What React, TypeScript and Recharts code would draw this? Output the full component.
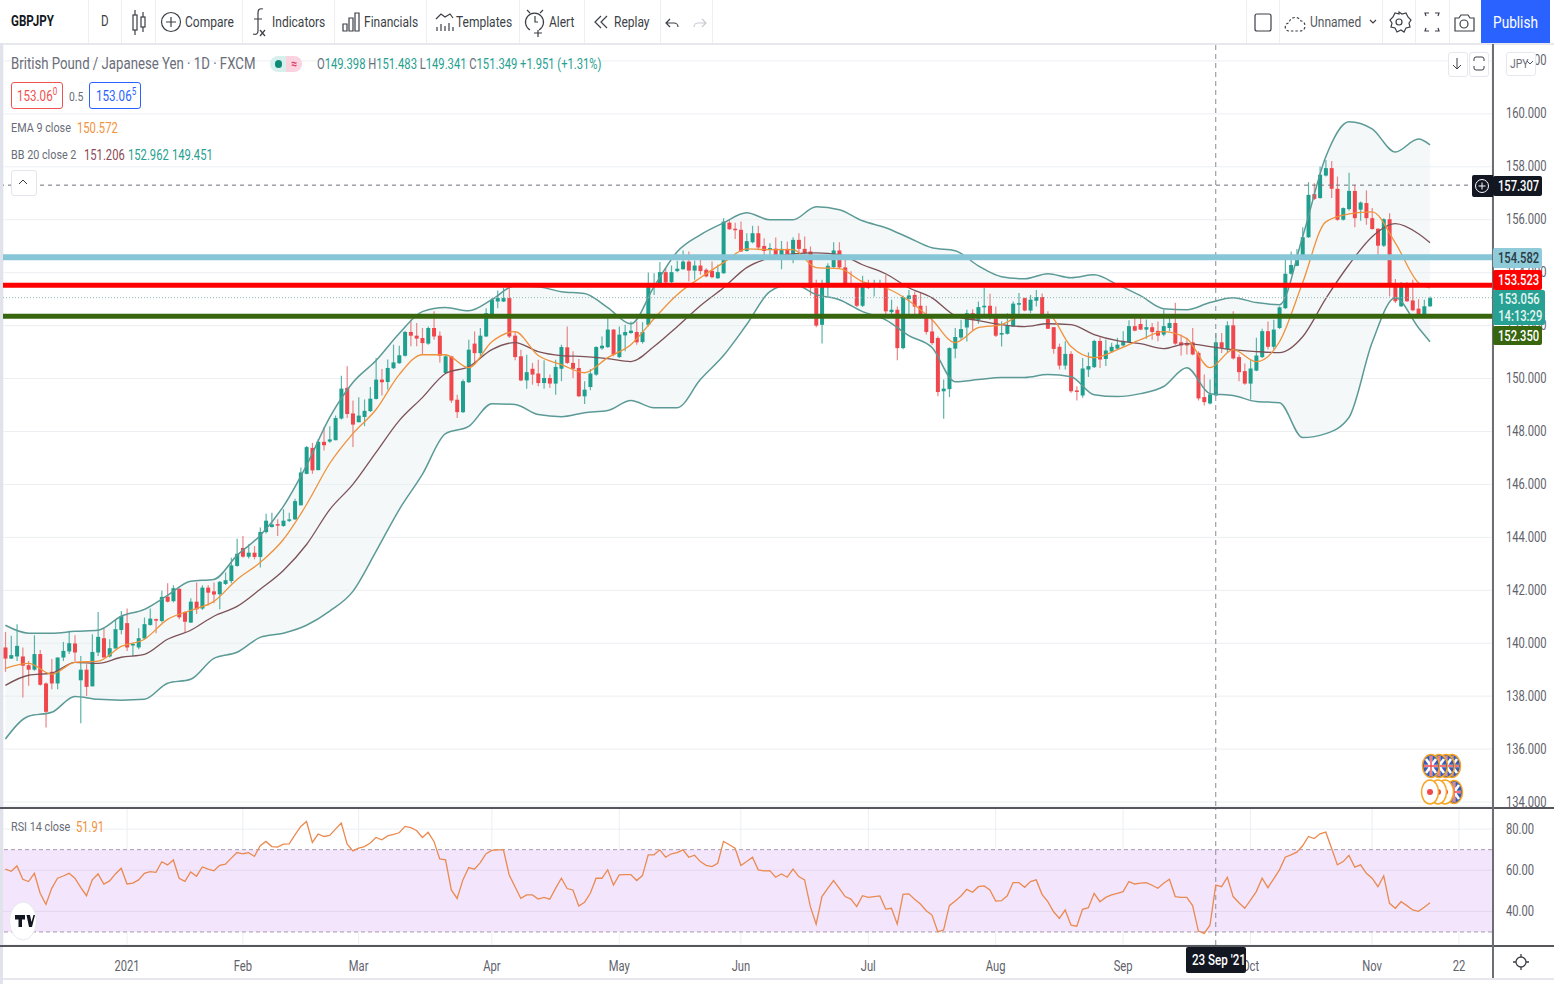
import React from 'react';
import { ComposedChart, Bar, Line, Area, XAxis, YAxis, CartesianGrid, ReferenceLine, ReferenceArea } from 'recharts';

const opens = [
  139.84,139.42,139.50,139.50,139.17,139.00,139.59,138.48,138.92,138.48,
  139.46,139.69,139.99,138.60,139.00,138.37,139.65,140.19,139.50,139.80,
  140.50,140.76,139.92,139.84,140.18,140.69,140.91,140.84,141.76,141.59,
  142.06,141.18,140.78,141.57,141.31,142.10,141.96,141.85,142.24,142.35,
  142.92,143.60,143.27,143.42,143.26,144.20,144.39,144.50,144.43,144.63,
  144.68,145.21,146.40,147.38,146.54,147.61,147.62,147.67,148.49,149.65,
  148.68,148.35,148.55,148.77,149.23,149.96,149.87,150.39,150.58,150.86,
  151.76,151.62,151.53,151.32,151.91,151.62,150.21,150.84,149.20,148.73,
  149.86,151.32,150.96,151.59,152.35,152.91,152.91,153.04,151.62,150.84,
  149.93,150.37,150.19,149.83,150.02,149.81,150.37,151.18,150.59,150.40,
  149.33,149.68,150.15,151.14,151.19,151.85,150.81,151.63,151.72,151.76,
  151.38,152.03,153.54,153.54,154.02,153.64,154.06,154.13,154.42,154.08,
  154.27,154.11,154.07,153.79,153.98,155.89,155.66,155.62,154.82,155.15,
  155.49,155.01,154.86,154.91,154.65,154.90,154.51,155.24,154.90,154.80,
  153.42,152.03,153.52,154.21,154.84,154.20,153.60,153.50,152.75,153.54,
  153.48,153.45,153.50,152.51,152.60,151.15,153.01,153.16,152.75,152.35,
  151.78,151.53,149.52,149.60,151.13,151.55,151.93,152.47,152.22,152.69,
  152.75,152.41,151.66,151.69,151.97,152.79,153.04,152.57,152.94,153.08,
  152.25,151.94,151.20,150.49,150.93,149.55,149.36,150.34,150.43,151.42,
  150.74,151.02,151.13,151.25,151.37,151.98,152.06,151.85,151.94,151.80,
  151.66,151.91,152.10,151.37,151.35,151.37,150.97,149.30,149.06,149.36,
  151.37,151.12,152.01,150.81,150.28,149.81,150.30,150.81,151.79,151.20,
  151.91,152.66,153.96,154.26,154.61,155.34,156.97,156.82,157.67,157.95,
  157.17,156.00,156.40,157.09,156.38,156.63,156.06,155.66,155.02,156.02,
  153.52,152.73,153.52,152.95,152.64,152.41,152.73,
];
const closes = [
  139.42,139.55,139.90,139.15,139.00,139.59,138.43,137.41,138.48,139.46,
  139.71,140.00,139.65,139.00,138.35,139.67,140.24,139.46,139.81,140.53,
  141.03,139.84,139.97,140.19,140.72,140.93,140.86,141.75,141.57,142.08,
  140.98,140.81,141.57,141.28,142.10,141.91,141.84,142.32,142.38,142.94,
  143.38,143.27,143.42,143.26,144.20,144.63,144.49,144.47,144.63,144.68,
  145.37,146.45,147.41,146.53,147.61,147.48,147.70,148.51,149.62,148.66,
  148.26,148.60,148.78,149.24,149.96,149.86,150.40,150.61,150.88,151.76,
  151.62,151.51,151.34,151.91,151.59,150.86,150.84,149.17,148.73,149.90,
  151.09,150.96,151.62,152.47,152.98,153.04,153.04,151.59,150.81,149.93,
  150.24,150.15,149.83,150.02,149.81,150.44,151.19,150.59,150.37,149.33,
  149.58,150.19,151.19,151.24,151.85,150.90,151.66,151.76,151.81,151.37,
  151.76,153.54,153.58,154.02,153.63,154.02,154.15,154.42,154.08,154.27,
  154.06,153.86,153.83,154.02,155.93,155.64,155.62,154.80,155.19,155.49,
  154.95,154.82,154.93,154.65,154.90,154.70,155.24,154.90,154.74,153.42,
  152.00,153.58,154.26,154.84,154.20,153.60,153.50,152.75,153.57,153.42,
  153.60,153.57,152.54,152.60,151.15,153.08,153.14,152.72,152.32,151.76,
  151.34,149.49,149.62,151.15,151.57,151.87,152.47,152.22,152.70,152.75,
  152.41,151.62,151.72,152.00,152.83,152.85,152.57,152.98,153.08,152.33,
  151.88,151.12,150.49,150.93,149.52,149.50,150.38,150.47,151.42,150.72,
  151.06,151.20,151.28,151.41,151.98,151.81,151.85,151.94,151.76,151.62,
  151.98,152.10,151.32,151.25,151.25,150.91,149.25,149.11,149.40,151.37,
  151.16,152.01,150.76,150.24,149.81,150.38,150.87,151.79,151.20,151.85,
  152.69,153.96,154.29,154.61,155.34,156.94,156.79,157.70,157.95,157.17,
  156.00,156.44,157.09,156.06,156.65,156.06,155.65,155.02,156.02,153.48,
  152.92,153.52,152.92,152.58,152.41,152.73,153.04,
];
const highs = [
  140.43,140.28,140.72,139.84,139.33,140.30,139.74,138.52,139.40,139.46,
  140.05,140.47,140.30,139.52,139.21,140.34,141.18,140.57,140.15,140.91,
  141.22,141.31,140.02,140.57,140.97,141.31,140.93,141.98,142.27,142.19,
  142.06,141.22,141.70,142.29,142.19,142.19,142.29,142.35,142.67,143.23,
  143.95,144.05,143.74,143.67,144.37,144.89,144.93,144.68,145.06,144.93,
  145.46,146.64,147.45,147.57,147.72,148.16,148.20,148.60,150.11,150.46,
  149.17,149.29,149.21,149.68,150.78,150.36,150.72,151.28,151.24,151.81,
  152.22,152.10,151.91,151.97,152.54,151.78,150.90,150.86,149.39,149.96,
  151.47,151.78,151.91,152.66,153.04,153.33,153.42,153.42,151.78,151.09,
  150.90,150.59,150.71,150.69,150.15,150.71,151.28,151.97,151.03,150.74,
  149.90,150.36,151.22,151.59,152.41,151.87,151.97,152.03,152.16,152.16,
  152.13,154.01,153.98,154.40,154.17,154.27,154.45,154.84,154.80,154.46,
  154.65,154.17,154.42,154.30,156.06,155.99,155.89,155.93,155.49,155.77,
  155.77,155.30,155.11,155.33,155.20,155.18,155.34,155.49,155.37,154.99,
  153.73,153.73,154.36,155.15,155.15,154.51,154.05,153.60,153.88,153.73,
  153.73,153.73,153.92,152.98,152.72,153.13,153.35,153.29,153.23,152.75,
  152.35,151.59,149.96,151.18,151.91,152.22,152.60,152.62,152.91,153.42,
  153.20,152.72,152.16,152.47,152.91,153.23,153.06,153.16,153.35,153.21,
  152.54,151.94,151.32,151.41,151.03,149.71,150.78,150.99,151.47,151.56,
  151.47,151.35,151.54,151.79,152.20,152.29,152.29,152.23,152.10,152.16,
  152.61,152.29,152.86,151.66,151.54,151.91,151.03,150.15,149.96,151.72,
  151.72,152.16,152.54,150.91,150.57,150.69,151.54,151.88,152.16,152.22,
  152.73,154.49,154.80,154.89,155.72,157.42,157.38,158.01,158.26,158.22,
  157.63,156.46,157.78,157.32,156.69,157.11,156.44,155.68,156.06,156.25,
  153.76,153.65,153.65,153.73,153.00,152.98,153.10,
];
const lows = [
  138.92,139.40,139.33,137.95,138.39,138.96,138.39,136.82,138.26,138.26,
  139.33,139.59,139.33,136.98,138.01,138.37,139.52,139.46,139.46,139.80,
  140.34,139.71,139.52,139.77,140.15,140.66,140.38,140.78,141.54,141.54,
  140.91,140.40,140.76,141.10,141.26,141.43,141.51,141.28,142.20,142.27,
  142.89,143.23,143.20,143.17,142.86,144.15,144.37,144.05,144.40,144.58,
  144.66,145.21,146.38,146.40,146.54,147.28,147.57,147.67,148.45,148.51,
  147.41,148.35,148.20,148.74,149.21,149.36,149.58,150.36,150.56,150.83,
  151.22,151.22,150.90,151.28,151.47,150.61,150.21,149.08,148.51,148.70,
  149.83,150.52,150.86,151.57,152.32,152.66,152.89,151.53,150.69,149.90,
  149.61,149.77,149.71,149.61,149.64,149.39,149.90,150.55,150.02,149.30,
  149.04,149.56,150.11,151.09,151.15,150.84,150.78,151.03,151.69,151.28,
  151.32,151.97,153.16,153.52,153.54,153.60,154.02,154.11,153.67,153.73,
  153.92,153.83,153.79,153.77,153.96,155.62,155.27,154.78,154.80,155.11,
  154.89,154.55,154.55,154.51,154.13,154.61,154.36,154.61,154.67,153.13,
  151.94,151.32,153.10,154.17,154.15,153.58,153.45,152.70,152.70,153.38,
  153.10,153.42,152.41,152.41,150.69,151.11,152.35,152.41,152.28,151.66,
  151.28,149.33,148.48,149.30,150.77,151.47,151.40,151.82,152.07,152.41,
  152.22,151.57,151.21,151.66,151.95,152.41,152.54,152.47,152.72,152.29,
  151.88,150.94,150.34,150.34,149.46,149.17,149.27,150.06,150.40,150.40,
  150.47,150.97,151.10,151.20,151.35,151.79,151.83,151.50,151.47,151.41,
  151.60,151.79,151.28,150.87,150.91,150.88,149.17,148.98,149.02,149.33,
  150.97,150.97,150.72,149.90,149.77,149.21,150.28,150.78,151.10,151.10,
  151.87,152.63,153.92,154.24,154.59,155.31,156.75,156.79,157.63,156.82,
  155.96,155.97,156.35,155.72,155.96,155.81,155.62,154.68,154.97,153.10,
  152.85,152.70,152.89,152.54,152.39,152.39,152.70,
];

const sampleBars = [
  0,4,8,12,16,20,24,28,32,36,40,44,48,52,56,60,64,68,72,76,80,84,88,92,96,100,104,108,112,116,
  120,124,128,132,136,140,144,148,152,156,160,164,168,172,176,180,184,188,192,196,200,204,208,
  212,216,220,224,228,232,236,240,244,246,
];
const bbUpper = [
  140.68,140.38,140.38,140.45,140.49,141.02,141.28,141.81,142.34,142.41,
  143.32,144.07,145.17,146.72,148.53,149.85,150.68,151.70,152.53,152.68,
  152.56,152.98,153.51,153.47,153.28,153.21,152.68,152.07,153.47,154.79,
  155.43,155.88,156.26,156.00,156.00,156.49,156.38,155.96,155.70,155.32,
  154.94,154.83,154.26,153.85,153.77,153.96,153.81,153.92,153.55,153.13,
  152.64,152.60,152.87,153.05,152.87,152.79,155.36,158.38,159.70,159.43,158.56,159.05,158.83,
];
const bbLower = [
  136.38,137.24,137.39,137.99,137.88,137.85,137.88,138.49,138.64,139.43,
  139.66,140.22,140.38,140.68,141.21,141.96,143.47,145.05,146.38,147.92,
  148.19,149.05,149.02,148.64,148.56,148.71,148.79,149.17,148.90,148.90,
  149.96,150.87,152.04,153.28,153.58,153.17,152.98,152.53,152.22,151.62,
  151.17,149.88,149.96,150.04,150.04,150.15,150.07,149.39,149.32,149.43,
  149.70,150.41,149.43,149.36,149.13,149.09,147.77,147.92,148.53,151.36,153.05,151.92,151.39,
];
const bbBasis = [
  138.41,138.79,138.87,139.28,139.24,139.47,139.58,140.15,140.49,141.02,
  141.39,142.04,142.75,143.73,145.05,146.00,147.21,148.41,149.28,150.19,
  150.45,151.09,151.36,151.02,150.87,150.83,150.75,150.64,151.21,151.96,
  152.75,153.43,154.19,154.56,154.71,154.75,154.68,154.30,153.96,153.43,
  153.05,152.38,152.19,152.04,151.96,152.07,152.04,151.66,151.43,151.32,
  151.13,151.32,151.21,151.09,151.02,150.98,151.58,153.02,154.30,155.36,155.85,155.47,155.13,
];
const ema9 = [
  139.05,139.24,138.83,139.28,139.32,139.88,140.15,140.90,141.24,141.58,
  142.41,143.05,143.92,145.24,146.79,147.92,148.83,150.15,150.90,150.90,
  150.41,151.39,151.77,150.87,150.53,150.22,150.79,151.28,152.26,153.17,
  153.81,154.38,154.90,154.87,154.87,154.19,154.15,153.66,153.43,152.94,
  152.22,151.36,151.92,152.04,152.41,152.41,151.21,150.79,151.09,151.47,
  151.77,151.51,150.41,151.09,150.64,151.39,153.62,155.92,156.22,156.30,155.13,153.62,153.43,
];
const rsi14 = [
  60.5,59.5,62.1,55.6,54.5,58.5,48.8,43.4,51.2,56.1,57.2,58.5,56.1,51.7,47.6,55.3,58.2,53.3,54.8,58.2,
  61.0,53.3,53.7,55.3,58.5,59.3,59.0,64.1,62.6,65.0,56.1,54.6,59.2,57.1,61.6,60.5,59.7,62.4,62.9,65.9,
  68.6,68.0,68.5,66.7,71.9,74.0,71.5,71.2,72.7,72.8,77.2,81.3,83.7,73.5,77.6,76.4,76.9,80.0,82.9,72.8,
  69.4,70.7,71.5,73.2,75.9,74.8,76.7,77.4,78.2,81.3,80.7,79.3,75.9,78.4,74.0,65.5,65.0,50.4,46.3,55.3,
  61.3,60.5,63.7,68.0,69.6,69.9,69.9,57.7,52.0,46.3,48.0,48.0,46.0,46.8,45.9,51.2,56.1,51.1,50.4,42.6,
  44.4,48.8,56.1,56.1,60.2,52.8,57.7,57.9,57.9,55.0,57.4,67.5,67.5,69.9,66.3,68.0,68.6,69.9,66.3,67.3,
  64.2,62.4,61.8,63.4,74.0,72.4,70.7,62.3,64.2,66.3,60.2,59.7,59.8,56.6,58.2,56.6,60.5,56.9,55.3,42.3,
  33.8,47.2,51.2,55.0,51.2,47.2,46.0,42.3,47.6,46.8,47.2,47.5,41.1,41.5,33.8,48.3,48.5,45.9,43.6,40.3,
  38.2,30.1,30.9,42.8,45.0,47.5,50.7,49.3,52.0,52.4,50.4,45.0,45.2,47.6,54.0,54.0,51.7,54.5,55.3,48.3,
  44.7,39.8,36.6,40.7,33.3,32.8,41.0,41.8,48.8,44.7,46.8,48.0,48.8,49.6,54.5,53.3,53.7,54.0,52.7,51.2,
  53.7,55.6,47.2,46.8,46.8,42.8,30.4,29.3,33.3,52.8,52.0,56.6,47.2,44.2,41.5,45.5,49.6,56.1,51.5,55.8,
  60.2,66.3,67.5,68.8,71.9,76.4,75.4,77.7,78.5,70.7,62.6,64.2,67.2,61.5,62.6,58.5,56.1,52.0,57.2,43.9,
  41.5,44.7,42.8,40.7,40.0,42.0,44.2,
];

const priceTicks = [134,136,138,140,142,144,146,148,150,152,154,156,158,160,162];
const rsiTicks = [40,60,80];
const monthBars = [21,41,61,84,106,127,149,171,193,215,236,251];
const monthLabels = ['2021','Feb','Mar','Apr','May','Jun','Jul','Aug','Sep','Oct','Nov','22'];

const levelBlue = 154.582;
const levelRed = 153.523;
const levelGreen = 152.35;
const lastPrice = 153.056;
const crossPrice = 157.307;
const crossBar = 209;

const candleRows = opens.map((open, i) => ({ bar: i, open, close: closes[i], high: highs[i], low: lows[i] }));
const sampleRows = sampleBars.map((bar, k) => ({
  bar, upper: bbUpper[k], lower: bbLower[k], basis: bbBasis[k], ema: ema9[k], band: [bbLower[k], bbUpper[k]],
}));
const rsiRows = rsi14.map((rsi, i) => ({ bar: i, rsi }));

// the screenshot is squeezed sideways, so all text gets narrowed by this much
const NARROW = 0.8;
const FONT = 'Roboto, sans-serif';
const UP = '#1f9f8d';
const DOWN = '#f0474c';
const xDomain: [number, number] = [-0.414, 256.7];

function Candle(props: any) {
  const { x, y, width, height, payload } = props;
  const { open, close, high, low } = payload;
  const up = close >= open;
  const perUnit = height / (high - low);
  const yOpen = y + (high - open) * perUnit;
  const yClose = y + (high - close) * perUnit;
  const color = up ? UP : DOWN;
  const mid = x + width / 2;
  return (
    <g>
      <line x1={mid} x2={mid} y1={y} y2={y + height} stroke={up ? '#5db3a8' : '#e98587'} strokeWidth={1.2} />
      <rect x={x} y={Math.min(yOpen, yClose)} width={width} height={Math.max(Math.abs(yClose - yOpen), 1.5)} fill={color} />
    </g>
  );
}

function PriceTick({ x, y, payload, digits }: any) {
  return (
    <text x={0} y={0} transform={`translate(${x} ${y + 4.5}) scale(${NARROW} 1)`} fill="#5f626b" fontSize={14} fontFamily={FONT}>
      {payload.value.toFixed(digits)}
    </text>
  );
}

function MonthTick({ x, y, payload }: any) {
  return (
    <text x={0} y={0} textAnchor="middle" transform={`translate(${x} ${y + 20}) scale(${NARROW} 1)`} fill="#5f626b" fontSize={14} fontFamily={FONT}>
      {monthLabels[monthBars.indexOf(payload.value)]}
    </text>
  );
}

function Txt({ x, y, color = '#6a6d78', size = 14, weight = 400, children }: any) {
  return (
    <span style={{ position: 'absolute', left: x, top: y, transform: `translateY(-50%) scaleX(${NARROW})`, transformOrigin: 'left center', color, fontSize: size, fontWeight: weight, whiteSpace: 'nowrap', fontFamily: FONT, lineHeight: 1 }}>
      {children}
    </span>
  );
}

function Box({ x, y, w, h, style }: any) {
  return <div style={{ position: 'absolute', left: x, top: y, width: w, height: h, ...style }} />;
}

function Narrowed({ children }: any) {
  return <span style={{ display: 'block', transform: `scaleX(${NARROW})`, whiteSpace: 'nowrap' }}>{children}</span>;
}

function PriceTag({ y, h, bg, color, lines, w = 49 }: any) {
  return (
    <div style={{ position: 'absolute', left: 1493, top: y, width: w, height: h, background: bg, color, fontFamily: FONT, fontSize: 14, lineHeight: 1, fontWeight: 500, textAlign: 'center', borderRadius: 2, display: 'flex', flexDirection: 'column', justifyContent: 'space-around' }}>
      {lines.map((t: string) => <Narrowed key={t}>{t}</Narrowed>)}
    </div>
  );
}

const ICON = { fill: 'none', stroke: '#3c3f47', strokeWidth: 1.2 };

function Icons() {
  return (
    <svg width={1554} height={44} style={{ position: 'absolute', left: 0, top: 0 }}>
      <g {...ICON}>
        <rect x={133} y={15} width={4} height={15} /><path d="M135 10v5M135 30v5" />
        <rect x={141} y={17} width={4} height={10} /><path d="M143 12v5M143 27v5" />
        <circle cx={171} cy={22} r={9.5} /><path d="M171 17v10M166 22h10" />
        <path d="M263 9c-4-1-5 1-5 4v18c0 3-2 4-5 3M254 19h8M260 30l5 6M265 30l-5 6" />
        <path d="M343 24h4v7h-4zM349 18h4v13h-4zM355 13h4v18h-4z" />
        <path d="M436 19l5-5 4 3 5-3 3 4M437 31v-4M441 31v-7M445 31v-5M449 31v-8M453 31v-4" />
        <path d="M530 30a9 9 0 1 1 9 0M530 13l-3-3M540 13l3-3M535 16v6h3M538 30v7M534 33h8" />
        <path d="M601 16l-6 6 6 6M607 16l-6 6 6 6" />
        <path d="M670 19l-4 4 4 4M667 23h7a4 4 0 0 1 4 4" />
        <path d="M702 19l4 4-4 4M705 23h-7a4 4 0 0 0-4 4" stroke="#c9cbd1" />
        <rect x={1255} y={14} width={16} height={17} rx={2} />
        <path d="M1289 31c-5 0-5-8 0-8 1-7 10-7 12-2 5 0 6 10-1 10z" strokeDasharray="2.5 2" />
        <path d="M1370 20l3 3 3-3" />
        <circle cx={1399} cy={22} r={3} />
        <path d="M1399 12l3 2 4-1 2 4 3 3-2 3 1 4-4 1-2 4-3-2-4 2-2-4-4-1 1-4-2-3 3-3 2-4 4 1z" />
        <path d="M1426 16l-1-3h4M1438 16l1-3h-4M1426 28l-1 3h4M1438 28l1 3h-4" />
        <path d="M1455 18h4l2-3h7l2 3h4v13h-19z" /><circle cx={1464} cy={24} r={4} />
      </g>
    </svg>
  );
}

function EventMarks() {
  const flag = (cx: number, cy: number, key: string) => (
    <g key={key}>
      <ellipse cx={cx} cy={cy} rx={8.5} ry={11.5} fill="#3c5bb0" stroke="#f5a623" strokeWidth={1.5} />
      <path d={`M${cx - 7} ${cy}h14M${cx} ${cy - 10}v20M${cx - 5} ${cy - 7}l10 14M${cx + 5} ${cy - 7}l-10 14`} stroke="#fff" strokeWidth={2.6} />
      <path d={`M${cx - 7} ${cy}h14M${cx} ${cy - 10}v20`} stroke="#f0474c" strokeWidth={1.4} />
    </g>
  );
  const sun = (cx: number, cy: number, key: string) => (
    <g key={key}>
      <ellipse cx={cx} cy={cy} rx={8.5} ry={12} fill="#fff" stroke="#f5a623" strokeWidth={1.5} />
      <circle cx={cx} cy={cy} r={3} fill="#f0474c" />
    </g>
  );
  return (
    <svg width={60} height={70} viewBox="1410 745 60 70" style={{ position: 'absolute', left: 1410, top: 745 }}>
      {flag(1452, 766, 'a')}{flag(1446, 766, 'b')}{flag(1439, 766, 'c')}{flag(1431, 766, 'd')}
      {flag(1454, 792, 'e')}{sun(1445, 792, 'f')}{sun(1438, 792, 'g')}{sun(1430, 792, 'h')}
    </svg>
  );
}

export default function App() {
  return (
    <div style={{ position: 'absolute', left: 0, top: 0, width: 1554, height: 984, background: '#fff', overflow: 'hidden' }}>
      <div style={{ position: 'absolute', left: 0, top: 44 }}>
        <ComposedChart width={1554} height={763} data={candleRows} margin={{ top: 0, right: 0, bottom: 0, left: 3 }}>
          <CartesianGrid stroke="#eceef2" />
          <XAxis dataKey="bar" type="number" domain={xDomain} ticks={monthBars} allowDataOverflow height={1} tick={false} tickLine={false} axisLine={false} />
          <YAxis orientation="right" width={62} domain={[133.85, 162.64]} ticks={priceTicks} interval={0} allowDataOverflow
            tick={(p: any) => <PriceTick {...p} digits={3} />} tickLine={false} tickMargin={8} axisLine={false} />
          <Area data={sampleRows} dataKey="band" type="monotone" stroke="none" fill="#e4eff1" fillOpacity={0.42} isAnimationActive={false} />
          <Line data={sampleRows} dataKey="upper" type="monotone" stroke="#5b9a96" strokeWidth={1.5} dot={false} isAnimationActive={false} />
          <Line data={sampleRows} dataKey="lower" type="monotone" stroke="#5b9a96" strokeWidth={1.5} dot={false} isAnimationActive={false} />
          <Line data={sampleRows} dataKey="basis" type="monotone" stroke="#7d5257" strokeWidth={1.3} dot={false} isAnimationActive={false} />
          <Bar dataKey={(d: any) => [d.low, d.high]} barSize={4} shape={Candle} isAnimationActive={false} />
          <Line data={sampleRows} dataKey="ema" type="monotone" stroke="#f0923b" strokeWidth={1.3} dot={false} isAnimationActive={false} />
          <ReferenceLine y={crossPrice} stroke="#6f7178" strokeDasharray="4 4" />
          <ReferenceLine y={lastPrice} stroke="#8fbdb8" strokeDasharray="1 2" />
          <ReferenceLine x={crossBar} stroke="#8a8c93" strokeDasharray="5 4" />
          <ReferenceLine y={levelBlue} stroke="#86c6d6" strokeWidth={6} />
          <ReferenceLine y={levelRed} stroke="#ff0000" strokeWidth={5} />
          <ReferenceLine y={levelGreen} stroke="#38660f" strokeWidth={5} />
        </ComposedChart>
      </div>
      <div style={{ position: 'absolute', left: 0, top: 808 }}>
        <ComposedChart width={1554} height={170} data={rsiRows} margin={{ top: 0, right: 0, bottom: 0, left: 3 }}>
          <CartesianGrid stroke="#eceef2" />
          <ReferenceArea y1={30} y2={70} fill="#f3e5fc" fillOpacity={1} stroke="none" />
          <ReferenceLine y={40} stroke="#e3d6ee" />
          <ReferenceLine y={60} stroke="#e3d6ee" />
          <XAxis dataKey="bar" type="number" domain={xDomain} ticks={monthBars} interval={0} allowDataOverflow height={33}
            tick={(p: any) => <MonthTick {...p} />} tickLine={false} tickMargin={0} axisLine={false} />
          <YAxis orientation="right" width={62} domain={[23.66, 90.24]} ticks={rsiTicks} interval={0} allowDataOverflow
            tick={(p: any) => <PriceTick {...p} digits={2} />} tickLine={false} tickMargin={8} axisLine={false} />
          <ReferenceLine y={70} stroke="#a99bb3" strokeDasharray="4 3" />
          <ReferenceLine y={30} stroke="#a99bb3" strokeDasharray="4 3" />
          <ReferenceLine x={crossBar} stroke="#8a8c93" strokeDasharray="5 4" />
          <Line dataKey="rsi" type="linear" stroke="#ea8a50" strokeWidth={1.3} dot={false} isAnimationActive={false} />
        </ComposedChart>
      </div>

      <Box x={0} y={0} w={3} h={984} style={{ background: '#e0e3eb' }} />
      <Box x={3} y={43} w={1551} h={1.5} style={{ background: '#e6e8ed' }} />
      <Box x={0} y={807} w={1554} h={1.5} style={{ background: '#55575c' }} />
      <Box x={0} y={945} w={1554} h={1.5} style={{ background: '#55575c' }} />
      <Box x={1492} y={44} w={1.5} h={934} style={{ background: '#6c6e74' }} />
      <Box x={3} y={978} w={1551} h={1.5} style={{ background: '#e6e8ed' }} />

      {/* toolbar */}
      <Box x={0} y={0} w={1554} h={43} style={{ background: '#fff' }} />
      {[88, 121, 155, 242, 334, 426, 519, 584, 660, 712, 1246, 1279, 1382, 1415, 1449].map((sx) => (
        <Box key={sx} x={sx} y={0} w={1} h={43} style={{ background: '#eceef2' }} />
      ))}
      <Icons />
      <Txt x={11} y={22} color="#131722" size={14.5} weight={700}>GBPJPY</Txt>
      <Txt x={101} y={22} color="#3c3f47" size={14.5}>D</Txt>
      <Txt x={185} y={22} color="#3c3f47" size={15}>Compare</Txt>
      <Txt x={272} y={22} color="#3c3f47" size={15}>Indicators</Txt>
      <Txt x={364} y={22} color="#3c3f47" size={15}>Financials</Txt>
      <Txt x={456} y={22} color="#3c3f47" size={15}>Templates</Txt>
      <Txt x={549} y={22} color="#3c3f47" size={15}>Alert</Txt>
      <Txt x={614} y={22} color="#3c3f47" size={15}>Replay</Txt>
      <Txt x={1310} y={22} color="#55585f" size={15}>Unnamed</Txt>
      <div style={{ position: 'absolute', left: 1481, top: 0, width: 69, height: 43, background: '#2962ff', color: '#fff', fontFamily: FONT, fontSize: 17, lineHeight: '44px', textAlign: 'center' }}>
        <Narrowed>Publish</Narrowed>
      </div>

      {/* legend */}
      <Txt x={11} y={64} size={16.5}>British Pound / Japanese Yen · 1D · FXCM</Txt>
      <Box x={270} y={56} w={16} h={16} style={{ background: '#d8f0ec', borderRadius: '8px 0 0 8px' }} />
      <Box x={286} y={56} w={16} h={16} style={{ background: '#fbd3e0', borderRadius: '0 8px 8px 0' }} />
      <Box x={275} y={60} w={7} h={8} style={{ background: '#0f8a78', borderRadius: 4 }} />
      <Txt x={291} y={63} color="#e0405f" size={13} weight={700}>≈</Txt>
      <Txt x={317} y={64} color="#26a08f" size={14}>
        <span style={{ color: '#6a6d78' }}>O</span>149.398 <span style={{ color: '#6a6d78' }}>H</span>151.483 <span style={{ color: '#6a6d78' }}>L</span>149.341 <span style={{ color: '#6a6d78' }}>C</span>151.349 +1.951 (+1.31%)
      </Txt>
      <Box x={11} y={82} w={50} h={25} style={{ border: '1px solid #ef5350', borderRadius: 3, background: '#fff' }} />
      <Txt x={17} y={96} color="#ef5350" size={14.5}>153.06<sup style={{ fontSize: 10 }}>0</sup></Txt>
      <Txt x={69} y={96} size={13}>0.5</Txt>
      <Box x={89} y={82} w={50} h={25} style={{ border: '1px solid #2962ff', borderRadius: 3, background: '#fff' }} />
      <Txt x={96} y={96} color="#2962ff" size={14.5}>153.06<sup style={{ fontSize: 10 }}>5</sup></Txt>
      <Txt x={11} y={128} size={13.5}>EMA 9 close</Txt>
      <Txt x={77} y={128} color="#f0923b" size={14}>150.572</Txt>
      <Txt x={11} y={155} size={13.5}>BB 20 close 2</Txt>
      <Txt x={84} y={155} color="#8b4a55" size={14}>151.206</Txt>
      <Txt x={128} y={155} color="#26a08f" size={14}>152.962</Txt>
      <Txt x={172} y={155} color="#26a08f" size={14}>149.451</Txt>
      <Box x={11} y={170} w={24} h={24} style={{ border: '1px solid #e3e5ea', borderRadius: 3, background: '#fff' }} />
      <svg width={24} height={24} style={{ position: 'absolute', left: 11, top: 170 }}><path d="M8 14l4-4 4 4" fill="none" stroke="#3c3f47" /></svg>
      <Txt x={11} y={827} size={13.5}>RSI 14 close</Txt>
      <Txt x={76} y={827} color="#f0923b" size={14}>51.91</Txt>

      {/* chart controls */}
      <Box x={1448} y={52} w={18} h={23} style={{ border: '1px solid #e6e8ed', borderRadius: 3, background: '#fff' }} />
      <Box x={1469} y={52} w={18} h={23} style={{ border: '1px solid #e6e8ed', borderRadius: 3, background: '#fff' }} />
      <svg width={50} height={30} style={{ position: 'absolute', left: 1445, top: 48 }}>
        <path d="M12 10v11M8 17l4 4 4-4" fill="none" stroke="#3c3f47" />
        <path d="M29 13v-2a2 2 0 0 1 2-2h6a2 2 0 0 1 2 2v2M29 18v2a2 2 0 0 0 2 2h6a2 2 0 0 0 2-2v-2" fill="none" stroke="#3c3f47" />
      </svg>
      <Box x={1506} y={52} w={28} h={22} style={{ border: '1px solid #e6e8ed', borderRadius: 3, background: '#fff' }} />
      <Txt x={1510} y={63} size={13}>JPY</Txt>
      <svg width={8} height={8} style={{ position: 'absolute', left: 1526, top: 59 }}><path d="M1 2l3 3 3-3" fill="none" stroke="#55585f" /></svg>

      {/* price tags */}
      <Box x={1472} y={175} w={21} h={22} style={{ background: '#131722', borderRadius: '2px 0 0 2px' }} />
      <svg width={21} height={22} style={{ position: 'absolute', left: 1472, top: 175 }}>
        <circle cx={10} cy={11} r={6.5} fill="none" stroke="#fff" /><path d="M10 7.5v7M6.5 11h7" stroke="#fff" />
      </svg>
      <PriceTag y={176} h={20} bg="#131722" color="#fff" lines={['157.307']} />
      <PriceTag y={248} h={20} bg="#8fcbd9" color="#2a3a42" lines={['154.582']} />
      <PriceTag y={270} h={20} bg="#ff0000" color="#fff" lines={['153.523']} />
      <PriceTag y={290} h={35} w={52} bg="#26a193" color="#e6f5f2" lines={['153.056', '14:13:29']} />
      <PriceTag y={326} h={19} bg="#38660f" color="#fff" lines={['152.350']} />

      {/* crosshair date and bottom-right */}
      <div style={{ position: 'absolute', left: 1186, top: 947, width: 60, height: 26, background: '#131722', color: '#fff', fontFamily: FONT, fontSize: 14.5, fontWeight: 500, lineHeight: '27px', textAlign: 'center', borderRadius: 2 }}>
        <Narrowed>23 Sep '21</Narrowed>
      </div>
      <svg width={20} height={20} style={{ position: 'absolute', left: 1511, top: 952 }}>
        <circle cx={10} cy={10} r={5} fill="none" stroke="#3c3f47" strokeWidth={1.3} />
        <path d="M10 2v3M10 15v3M2 10h3M15 10h3" stroke="#3c3f47" strokeWidth={1.3} />
      </svg>

      {/* logo */}
      <svg width={30} height={42} style={{ position: 'absolute', left: 9, top: 900 }}>
        <ellipse cx={14} cy={21} rx={13.5} ry={19} fill="#fff" stroke="#e6e8ed" />
        <path d="M6 15h10v4.5h-3V27H9.500v-7.500H6zM18 15h4l-2 0zM17.500 15h3.500l1.500 7 2-7h-0l0 0 1.500 0-3 12h-3z" fill="#131722" />
      </svg>
      <EventMarks />
    </div>
  );
}
